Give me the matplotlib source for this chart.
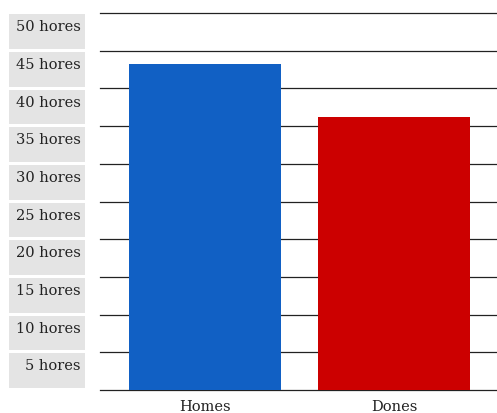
import matplotlib
matplotlib.use("Agg")
import matplotlib.pyplot as plt
import matplotlib.transforms as mtransforms
from matplotlib.patches import Rectangle

categories = ["Homes", "Dones"]
hours = [43.2, 36.2]
bar_colors = ["#1160c4", "#cc0000"]
tick_values = [5, 10, 15, 20, 25, 30, 35, 40, 45, 50]
tick_labels = [f"{v} hores" for v in tick_values]

W, H = 497, 414
fig = plt.figure(figsize=(W / 100, H / 100), dpi=100)
ax = fig.add_axes([100 / W, 23 / H, 397 / W, 377 / H])

text_color = "#222222"
font = "DejaVu Serif"

xpos = list(range(len(categories)))
ax.bar(xpos, hours, width=0.8, color=bar_colors, zorder=3)

# horizontal grid lines (including baseline)
for v in [0] + tick_values:
    ax.axhline(v, color="#222222", linewidth=0.9, zorder=2, clip_on=False)

ax.set_ylim(0, 50)
ax.set_xlim(-0.556, 1.545)
ax.set_yticks([])
ax.set_xticks([])
for s in ax.spines.values():
    s.set_visible(False)

# category labels under the bars
for x, name in zip(xpos, categories):
    ax.text(x, -1.2, name, ha="center", va="top", fontsize=10.5,
            family=font, color=text_color, clip_on=False)

# y labels inside grey boxes, each sitting in the band below its grid line
trans = mtransforms.blended_transform_factory(ax.transAxes, ax.transData)
for v, lab in zip(tick_values, tick_labels):
    ax.add_patch(Rectangle((-0.229, v - 4.75), 0.191, 4.6, transform=trans,
                           facecolor="#e4e4e4", edgecolor="none", clip_on=False))
    ax.text(-0.048, v - 1.75, lab, transform=trans, ha="right", va="center",
            fontsize=10.5, family=font, color=text_color, clip_on=False)

fig.savefig("out.png", dpi=100)
